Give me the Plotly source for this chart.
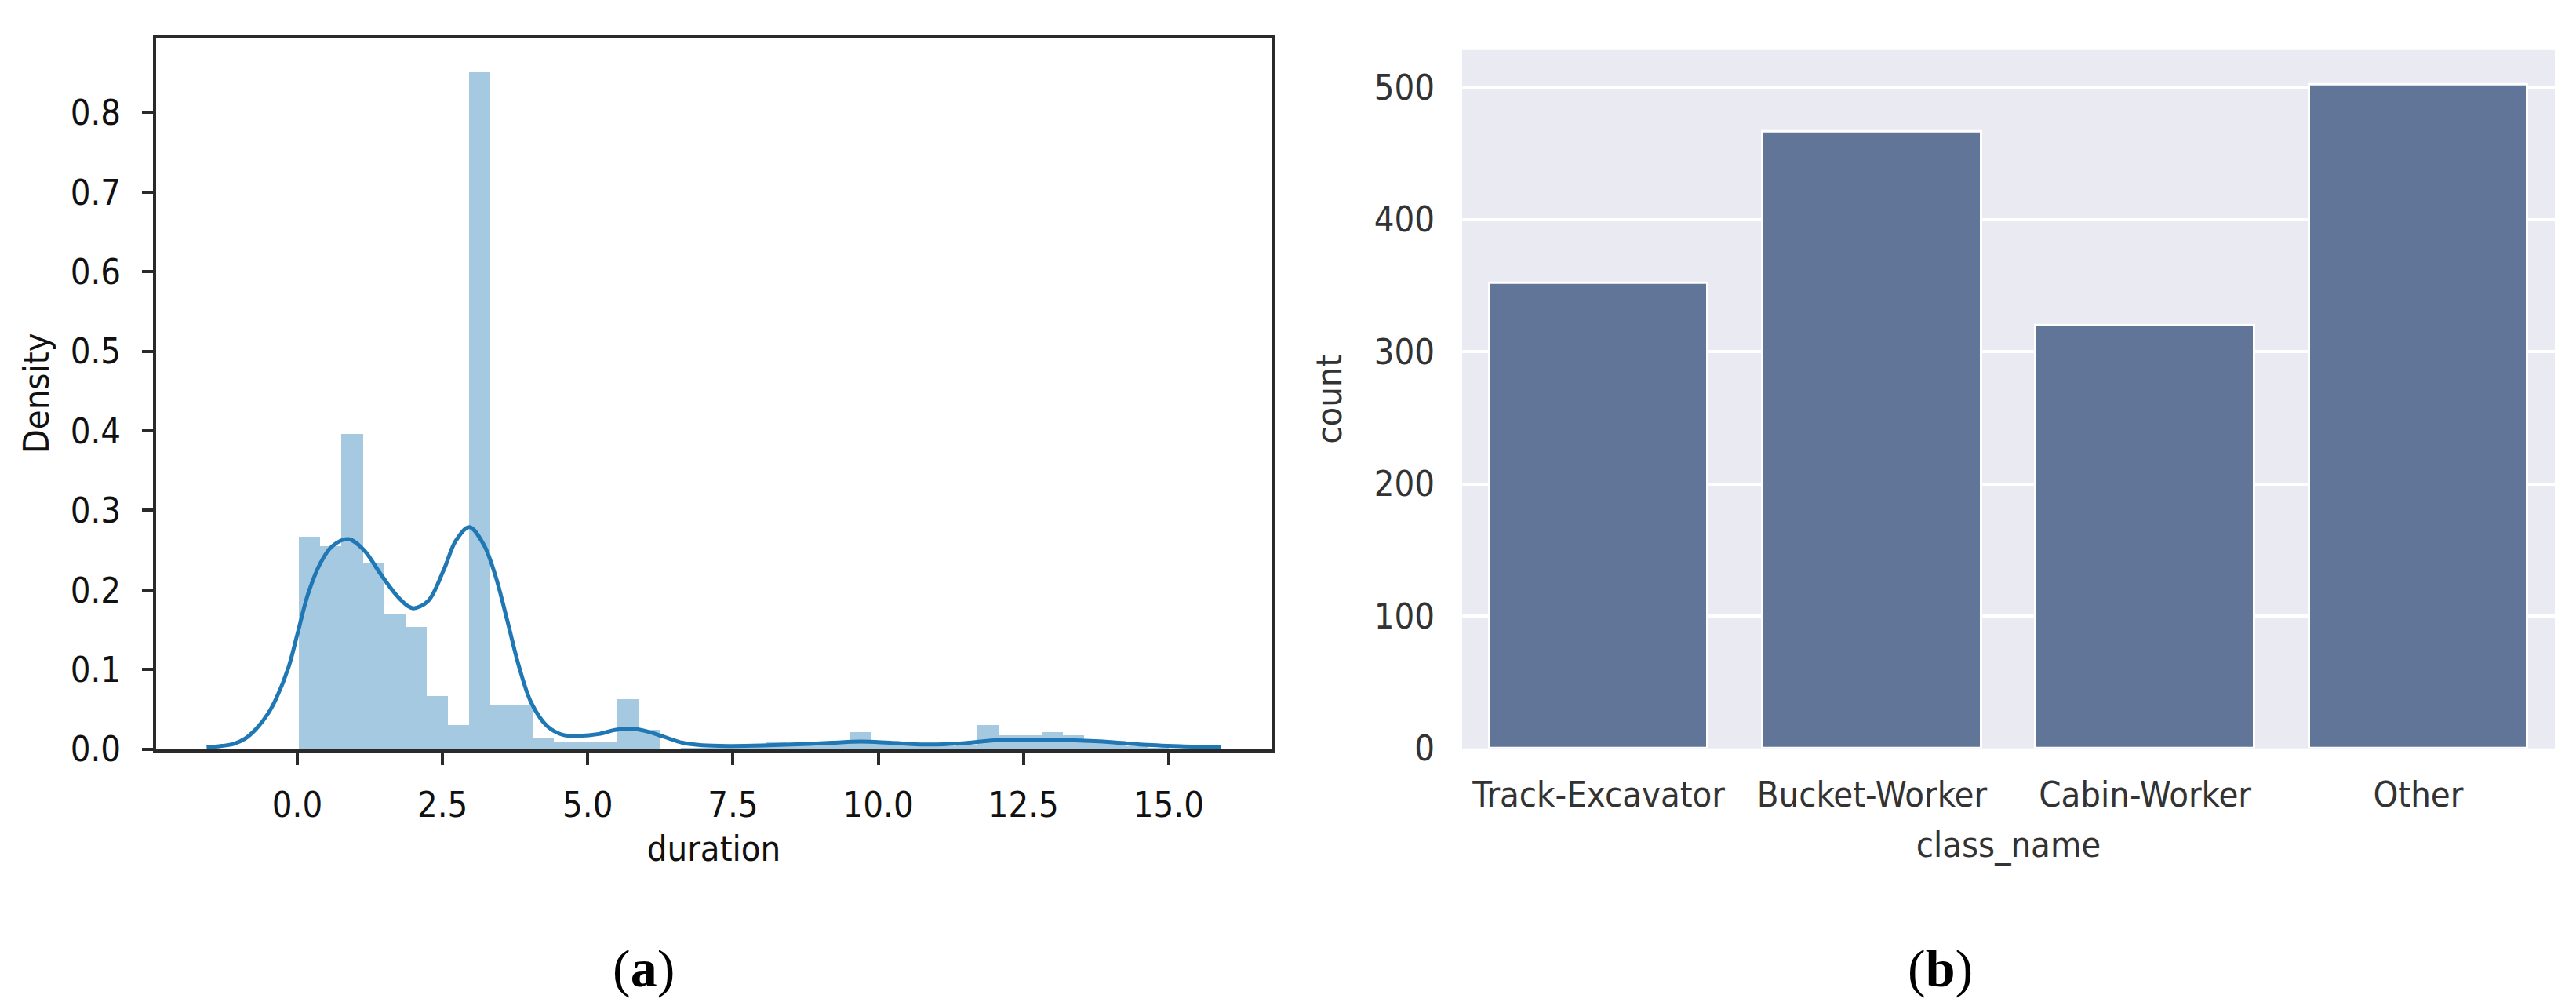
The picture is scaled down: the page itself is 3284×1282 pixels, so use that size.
import plotly.graph_objects as go

# ---------------- data: (a) duration histogram + KDE ----------------
bin_start = 0.033
bin_width = 0.365
hist_density = [0.267, 0.255, 0.396, 0.234, 0.169, 0.153, 0.067, 0.030, 0.851,
                0.0546, 0.0546, 0.0144, 0.0096, 0.0096, 0.0096, 0.0626, 0.024,
                0.0, 0.0017, 0.0017, 0.0034, 0.0034, 0.0084, 0.005, 0.005, 0.0067,
                0.0212, 0.0084, 0.005, 0.0034, 0.0034, 0.005, 0.030, 0.0171, 0.0171,
                0.0212, 0.0171, 0.0105, 0.0105, 0.0034, 0.0017]

kde_x = [-1.56, -1.3, -1.1, -0.9, -0.7, -0.5, -0.36, -0.15, 0.0, 0.19, 0.40, 0.60,
         0.88, 1.15, 1.42, 1.70, 1.90, 2.0, 2.25, 2.52, 2.73, 2.96, 3.21, 3.41,
         3.62, 3.82, 4.03, 4.30, 4.58, 4.85, 5.19, 5.47, 5.74, 6.01, 6.29, 6.63,
         6.97, 7.45, 8.0, 8.6, 9.2, 9.7, 10.2, 10.8, 11.4, 12.0, 12.5, 13.1, 13.8,
         14.5, 15.2, 15.9]
kde_y = [0.002, 0.004, 0.0064, 0.013, 0.026, 0.045, 0.064, 0.103, 0.144, 0.196,
         0.234, 0.255, 0.264, 0.250, 0.2215, 0.194, 0.180, 0.177, 0.186, 0.225,
         0.262, 0.279, 0.257, 0.218, 0.16, 0.103, 0.058, 0.029, 0.0177, 0.0167,
         0.019, 0.024, 0.0257, 0.0225, 0.016, 0.008, 0.0048, 0.0039, 0.0045, 0.006,
         0.008, 0.0095, 0.008, 0.0058, 0.007, 0.011, 0.0118, 0.0116, 0.0097, 0.0058,
         0.0035, 0.002]

dur_ticks = [0.0, 2.5, 5.0, 7.5, 10.0, 12.5, 15.0]
dens_ticks = [0.0, 0.1, 0.2, 0.3, 0.4, 0.5, 0.6, 0.7, 0.8]

# ---------------- data: (b) class counts ----------------
class_names = ["Track-Excavator", "Bucket-Worker", "Cabin-Worker", "Other"]
class_counts = [352, 466, 320, 502]
count_ticks = [0, 100, 200, 300, 400, 500]

# ---------------- figure ----------------
W, H = 3284, 1282
FONT = "DejaVu Sans Condensed, DejaVu Sans, sans-serif"
FS = 45
AX = "#2a2a2a"

bin_edges = [bin_start + i * bin_width for i in range(len(hist_density))]

fig = go.Figure()
fig.add_trace(go.Bar(
    x=bin_edges, y=hist_density, width=bin_width, offset=0,
    marker=dict(color="rgba(31,119,180,0.4)", line=dict(width=0)),
    xaxis="x", yaxis="y", showlegend=False, hoverinfo="skip"))
fig.add_trace(go.Scatter(
    x=kde_x, y=kde_y, mode="lines", line=dict(color="#1f77b4", width=5, shape="spline"),
    xaxis="x", yaxis="y", showlegend=False))
fig.add_trace(go.Bar(
    x=class_names, y=class_counts, width=0.8,
    marker=dict(color="rgb(97,117,152)", line=dict(color="white", width=3)),
    xaxis="x2", yaxis="y2", showlegend=False))

def px_x(a, b):
    return [a / W, b / W]

def px_y(top, bottom):
    return [1 - bottom / H, 1 - top / H]

fig.update_layout(
    width=W, height=H, margin=dict(l=0, r=0, t=0, b=0),
    paper_bgcolor="white", plot_bgcolor="white",
    bargap=0,
    font=dict(family=FONT, size=FS, color="#111"),
    xaxis=dict(domain=px_x(191, 1613), range=[-2.43, 16.77], tickvals=dur_ticks,
               ticktext=[f"{v:.1f}" for v in dur_ticks],
               showline=True, mirror=True, linecolor=AX, linewidth=4,
               ticks="outside", ticklen=16, tickwidth=3.5, tickcolor=AX,
               showgrid=False, zeroline=False, ticklabelstandoff=12,
               title=dict(text="duration", standoff=16, font=dict(size=FS)),
               anchor="y"),
    yaxis=dict(domain=px_y(41, 967), range=[0, 0.894], tickvals=dens_ticks,
               ticktext=[f"{v:.1f}" for v in dens_ticks],
               showline=True, mirror=True, linecolor=AX, linewidth=4,
               ticks="outside", ticklen=14, tickwidth=3.5, tickcolor=AX,
               showgrid=False, zeroline=False, ticklabelstandoff=18,
               title=dict(text="Density", standoff=14, font=dict(size=FS)),
               anchor="x"),
    xaxis2=dict(domain=px_x(1856, 3249), range=[-0.5, 3.5], type="category",
                showline=False, ticks="", showgrid=False, zeroline=False,
                ticklabelstandoff=28, tickfont=dict(color="#333"),
                title=dict(text="class_name", standoff=22, font=dict(size=FS, color="#333")),
                anchor="y2"),
    yaxis2=dict(domain=px_y(57, 966), range=[0, 528], tickvals=count_ticks,
                showline=False, ticks="", showgrid=True, gridcolor="white", gridwidth=3.5,
                zeroline=False, ticklabelstandoff=34, tickfont=dict(color="#333"),
                title=dict(text="count", standoff=26, font=dict(size=FS, color="#333")),
                anchor="x2"),
    shapes=[dict(type="rect", xref="paper", yref="paper",
                 x0=1856 / W, x1=3249 / W, y0=1 - 966 / H, y1=1 - 57 / H,
                 fillcolor="#EAEAF2", line=dict(width=0), layer="below")],
    annotations=[
        dict(text="(<b>a</b>)", x=812 / W, y=1 - 1252 / H, xref="paper", yref="paper",
             showarrow=False, xanchor="center", yanchor="middle",
             font=dict(family="Liberation Serif, serif", size=68, color="black")),
        dict(text="(<b>b</b>)", x=2465 / W, y=1 - 1252 / H, xref="paper", yref="paper",
             showarrow=False, xanchor="center", yanchor="middle",
             font=dict(family="Liberation Serif, serif", size=68, color="black")),
    ],
)

fig.write_html("out.html")
